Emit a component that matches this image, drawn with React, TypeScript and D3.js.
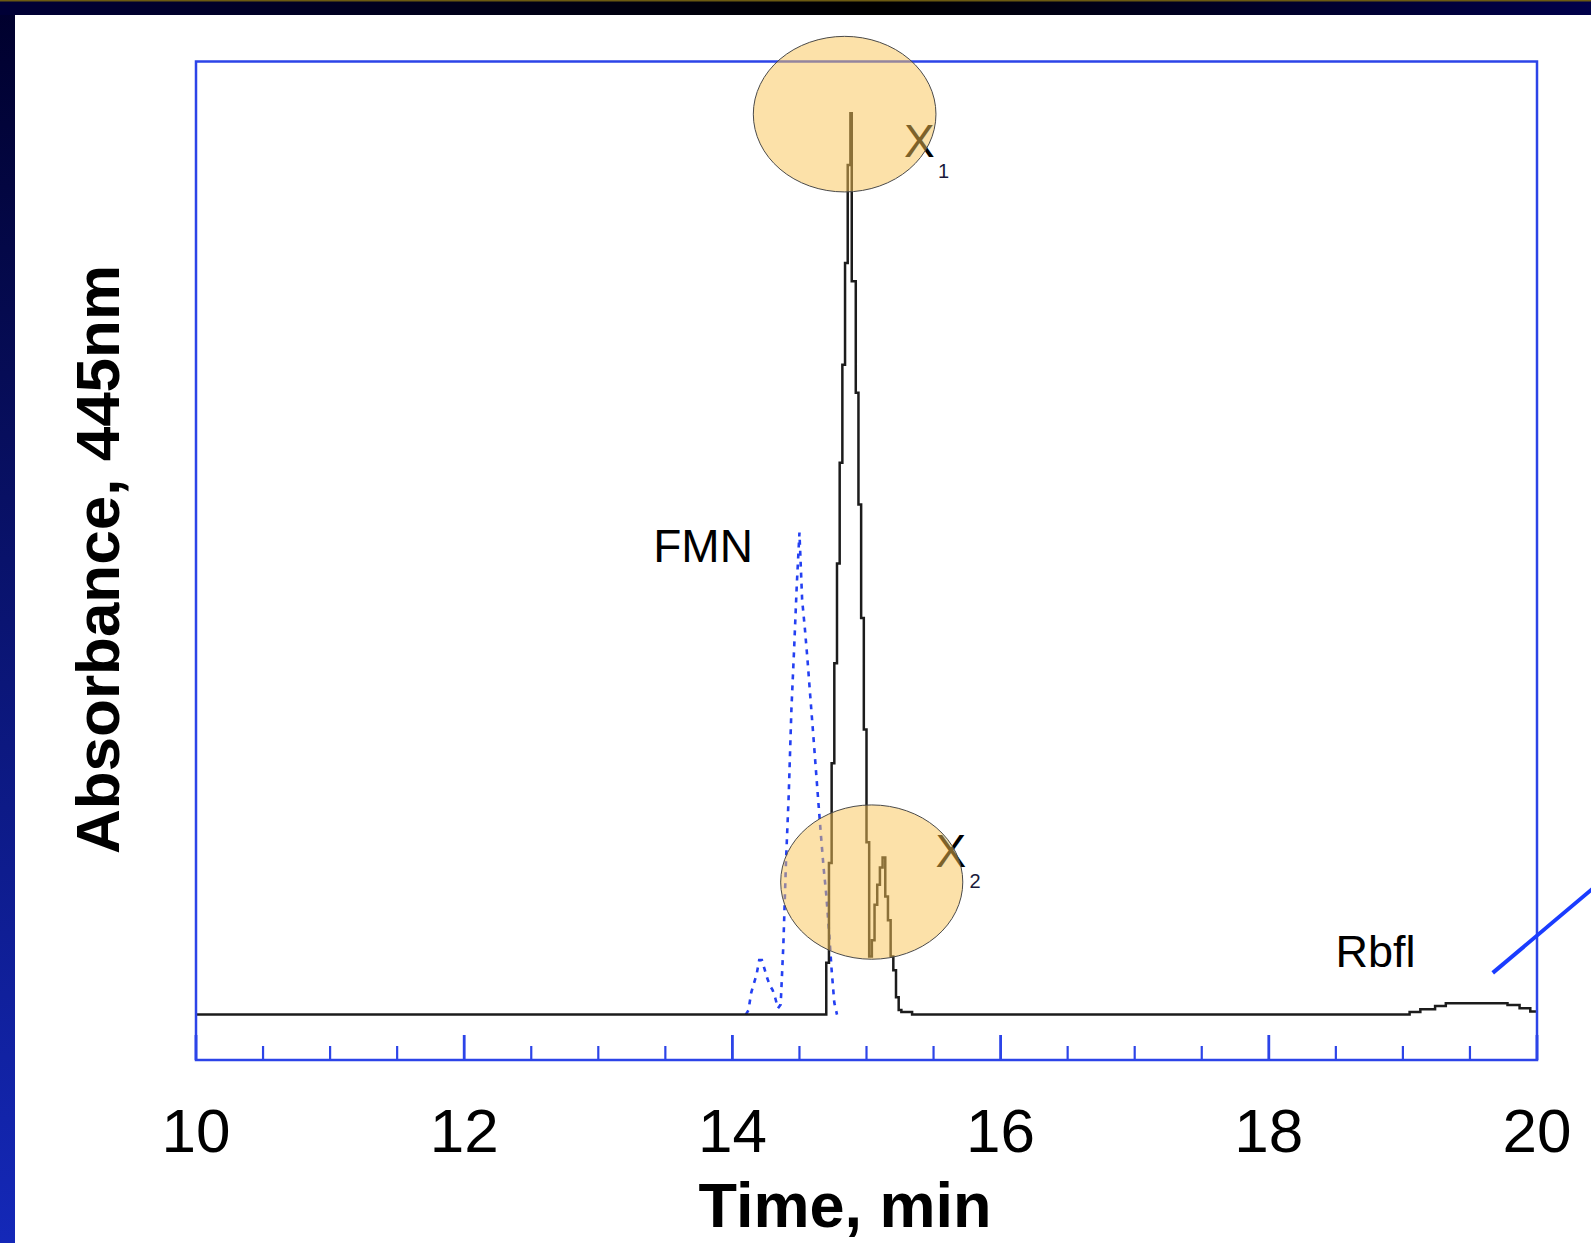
import React from "react";
import * as d3 from "d3";

const W = 1591;
const H = 1243;

// time axis (min)
const timeDomain: [number, number] = [10, 20];
const majorLabels = [10, 12, 14, 16, 18, 20];

// black trace, absorbance at 445nm (arbitrary units), sampled every 0.02 min
const mainTrace: [number, number][] = [
  [10.0, 0],
  [14.7, 5.7],
  [14.72, 16.7],
  [14.74, 27.7],
  [14.76, 38.7],
  [14.78, 49.7],
  [14.8, 60.8],
  [14.82, 71.6],
  [14.84, 82.8],
  [14.86, 93.6],
  [14.88, 99.3],
  [14.89, 80.8],
  [14.92, 68.5],
  [14.94, 56.2],
  [14.96, 43.7],
  [14.98, 31.4],
  [15.0, 19.0],
  [15.02, 6.4],
  [15.04, 8.2],
  [15.06, 12.1],
  [15.08, 14.3],
  [15.1, 16.2],
  [15.12, 17.3],
  [15.14, 13.0],
  [15.16, 10.4],
  [15.18, 6.4],
  [15.2, 4.9],
  [15.22, 1.9],
  [15.24, 0.5],
  [15.26, 0.3],
  [15.34, 0],
  [19.05, 0.3],
  [19.13, 0.6],
  [19.24, 0.95],
  [19.32, 1.25],
  [19.78, 1.05],
  [19.87, 0.7],
  [19.95, 0.35],
  [20.0, 0.35],
];

// FMN standard, dotted blue
const fmnTrace: [number, number][] = [
  [14.1, 0],
  [14.12, 0.5],
  [14.14, 2.4],
  [14.16, 3.4],
  [14.18, 4.4],
  [14.2, 6.0],
  [14.22, 6.0],
  [14.24, 5.0],
  [14.26, 4.0],
  [14.28, 3.2],
  [14.3, 2.7],
  [14.32, 1.8],
  [14.34, 0.7],
  [14.36, 1.1],
  [14.38, 7.7],
  [14.4, 17.0],
  [14.42, 24.2],
  [14.44, 33.6],
  [14.46, 40.2],
  [14.48, 47.3],
  [14.5, 53.1],
  [14.52, 45.7],
  [14.54, 42.6],
  [14.56, 39.1],
  [14.58, 35.2],
  [14.6, 31.4],
  [14.62, 27.5],
  [14.64, 23.6],
  [14.66, 19.8],
  [14.68, 16.2],
  [14.7, 13.2],
  [14.72, 9.3],
  [14.74, 4.9],
  [14.76, 1.3],
  [14.78, 0],
];

// peak labels [text, time, absorbance]
const peakLabels: [string, number, number][] = [
  ["FMN", 13.41, 49.9],
  ["Rbfl", 18.497, 5.2],
];

// highlighted peaks: [name, subscript, label t, label abs, ellipse t, ellipse abs, rx (min), ry (abs)]
const highlights: [string, string, number, number, number, number, number, number][] = [
  ["X", "1", 15.28, 94.5, 14.837, 99.2, 0.681, 8.57],
  ["X", "2", 15.515, 16.3, 15.039, 14.6, 0.679, 8.5],
];

const font = "'Liberation Sans', Arial, Helvetica, sans-serif";
const frameBlue = "#2c44e8";

export default function App() {
  const x = d3.scaleLinear().domain(timeDomain).range([196, 1537]);
  const y = d3.scaleLinear().domain([-5, 105]).range([1060, 61.5]);

  const stepLine = d3
    .line<[number, number]>()
    .x((d) => x(d[0]))
    .y((d) => y(d[1]))
    .curve(d3.curveStepAfter);
  const fmnLine = d3
    .line<[number, number]>()
    .x((d) => x(d[0]))
    .y((d) => y(d[1]));

  const ticks = x.ticks(20);
  const [x0, x1] = x.range();
  const [yb, yt] = y.range();

  return (
    <svg
      width={W}
      height={H}
      style={{ position: "absolute", left: 0, top: 0, display: "block" }}
    >
      <defs>
        <linearGradient id="leftGrad" x1="0" y1="0" x2="0" y2="1">
          <stop offset="0%" stopColor="#00002c" />
          <stop offset="100%" stopColor="#1428b8" />
        </linearGradient>
        <linearGradient id="topGrad" x1="0" y1="0" x2="1" y2="0">
          <stop offset="0%" stopColor="#000036" />
          <stop offset="55%" stopColor="#000000" />
          <stop offset="100%" stopColor="#00004a" />
        </linearGradient>
      </defs>

      {/* slide background */}
      <rect width={W} height={H} fill="url(#leftGrad)" />
      <rect width={W} height={15} fill="url(#topGrad)" />
      <rect width={W} height={1.5} fill="#6b5a12" />
      <rect x={15} y={15} width={W - 15} height={H - 15} fill="#fff" />

      {/* traces */}
      <path
        d={fmnLine(fmnTrace) || ""}
        fill="none"
        stroke="#2440f2"
        strokeWidth={2.6}
        strokeDasharray="5,6"
      />
      <path
        d={stepLine(mainTrace) || ""}
        fill="none"
        stroke="#1c1c1c"
        strokeWidth={2.5}
      />

      {/* frame + ticks */}
      <rect
        x={x0}
        y={yt}
        width={x1 - x0}
        height={yb - yt}
        fill="none"
        stroke={frameBlue}
        strokeWidth={2.5}
      />
      {ticks.map((t) => {
        const major = Math.abs(t % 2) < 1e-9;
        return (
          <line
            key={t}
            x1={x(t)}
            x2={x(t)}
            y1={yb}
            y2={yb - (major ? 25 : 14)}
            stroke={frameBlue}
            strokeWidth={major ? 2.8 : 2.2}
          />
        );
      })}
      {majorLabels.map((t) => (
        <text
          key={t}
          x={x(t)}
          y={1151.5}
          textAnchor="middle"
          fontFamily={font}
          fontSize={62}
          fill="#000"
        >
          {t}
        </text>
      ))}

      {/* axis titles */}
      <text
        x={845}
        y={1227}
        textAnchor="middle"
        fontFamily={font}
        fontSize={63}
        fontWeight="bold"
        fill="#000"
      >
        Time, min
      </text>
      <text
        transform="translate(119,559.5) rotate(-90)"
        textAnchor="middle"
        fontFamily={font}
        fontSize={62}
        fontWeight="bold"
        fill="#000"
      >
        Absorbance, 445nm
      </text>

      {/* peak labels */}
      {peakLabels.map(([label, t, v]) => (
        <text
          key={label}
          x={x(t)}
          y={y(v)}
          fontFamily={font}
          fontSize={label === "FMN" ? 46 : 45}
          fill="#000"
        >
          {label}
        </text>
      ))}

      {/* highlighted peaks */}
      {highlights.map(([name, sub, lt, lv]) => (
        <g key={name + sub}>
          <text x={x(lt)} y={y(lv)} fontFamily={font} fontSize={46} fill="#000">
            {name}
          </text>
          <text
            x={x(lt) + 34}
            y={y(lv) + 21}
            fontFamily={font}
            fontSize={20}
            fill="#1a1a3a"
          >
            {sub}
          </text>
        </g>
      ))}
      {highlights.map(([name, sub, , , et, ev, rx, ry]) => (
        <ellipse
          key={"e" + sub}
          cx={x(et)}
          cy={y(ev)}
          rx={x(timeDomain[0] + rx) - x(timeDomain[0])}
          ry={y(0) - y(ry)}
          fill="rgb(250,196,84)"
          fillOpacity={0.5}
          stroke="#4a4a4a"
          strokeWidth={1}
        />
      ))}

      {/* pointer line toward the right */}
      <line
        x1={x(19.67)}
        y1={y(4.6)}
        x2={x(20.85)}
        y2={y(19.3)}
        stroke="#1a3cff"
        strokeWidth={4}
      />
    </svg>
  );
}
